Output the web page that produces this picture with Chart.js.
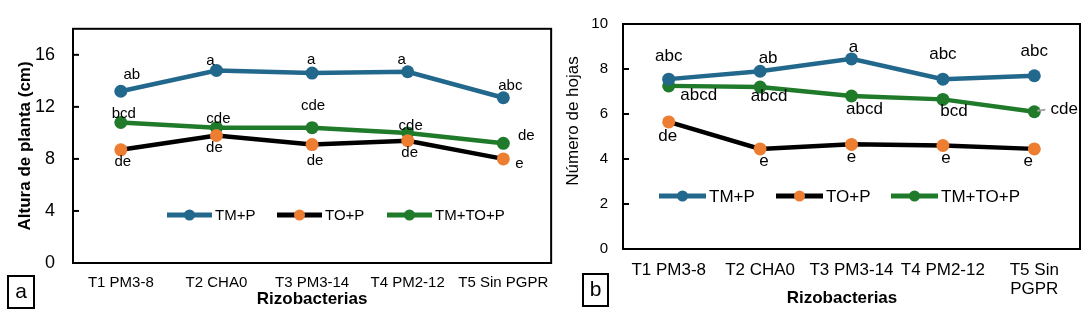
<!DOCTYPE html>
<html lang="es">
<head>
<meta charset="UTF-8">
<title>Rizobacterias</title>
<script src="https://cdn.jsdelivr.net/npm/chart.js"></script>
<style>
  html, body { margin: 0; padding: 0; background: #fff; }
  #wrap { position: relative; width: 1087px; height: 326px; }
  #chartA { position: absolute; left: 0; top: 0; }
  #chartB { position: absolute; left: 560px; top: 0; }
</style>
</head>
<body>
<div id="wrap">
  <canvas id="chartA" width="560" height="326"></canvas>
  <canvas id="chartB" width="527" height="326"></canvas>
</div>
<script>
// categorias (eje x)
const categories = ["T1 PM3-8", "T2 CHA0", "T3 PM3-14", "T4 PM2-12", "T5 Sin PGPR"];
const categoriesB = ["T1 PM3-8", "T2 CHA0", "T3 PM3-14", "T4 PM2-12", ["T5 Sin", "PGPR"]];
const seriesNames = ["TM+P", "TO+P", "TM+TO+P"];

// a) altura de planta (cm)
const alturaTMP = [13.2, 14.8, 14.6, 14.7, 12.7];
const alturaTOP = [8.7, 9.8, 9.1, 9.4, 8.0];
const alturaTMTOP = [10.8, 10.4, 10.4, 10.0, 9.2];
const alturaTicks = [0, 4, 8, 12, 16];

// b) numero de hojas
const hojasTMP = [7.55, 7.9, 8.45, 7.55, 7.7];
const hojasTOP = [5.65, 4.45, 4.65, 4.6, 4.45];
const hojasTMTOP = [7.25, 7.2, 6.8, 6.65, 6.1];
const hojasTicks = [0, 2, 4, 6, 8, 10];

// letras de significancia
const letrasA_TMP = ["ab", "a", "a", "a", "abc"];
const letrasA_TOP = ["de", "de", "de", "de", "e"];
const letrasA_TMTOP = ["bcd", "cde", "cde", "cde", "de"];
const letrasB_TMP = ["abc", "ab", "a", "abc", "abc"];
const letrasB_TOP = ["de", "e", "e", "e", "e"];
const letrasB_TMTOP = ["abcd", "abcd", "abcd", "bcd", "cde"];

// desplazamiento de las letras respecto al punto (px)
const offsetsA = [
    [[11, -16], [-6, -10], [-1, -13], [-6, -12], [7, -12]],
    [[2, 12], [-2, 12], [3, 16], [2, 12], [16, 5]],
    [[3, -9], [2, -9], [1, -22], [3, -7], [23, -7]],
];
const offsetsB = [
    [[0, -23], [8, -13], [2, -12], [0, -25], [0, -24]],
    [[-1, 14], [4, 12], [0, 13], [3, 13], [-6, 12]],
    [[30, 9], [9, 9], [13, 13], [11, 12], [30, -2]],
];

const AZUL = "#22688c";
const VERDE = "#1f7a2a";
const NARANJA = "#ed7d31";
const FONT = "'Liberation Sans', Arial, sans-serif";

function makeDatasets(a, b, c, r) {
    return [
        { label: seriesNames[0], data: a, borderColor: AZUL, pointBackgroundColor: AZUL, pointBorderColor: AZUL },
        { label: seriesNames[1], data: b, borderColor: "#000", pointBackgroundColor: NARANJA, pointBorderColor: NARANJA },
        { label: seriesNames[2], data: c, borderColor: VERDE, pointBackgroundColor: VERDE, pointBorderColor: VERDE },
    ].map((d) => Object.assign(d, { borderWidth: 4.5, pointRadius: r, pointHoverRadius: r, pointBorderWidth: 0, tension: 0, fill: false }));
}

// marco, marcas internas, letras, leyenda y etiqueta del panel
const decor = {
    id: "decor",
    afterDatasetsDraw(chart, args, o) {
        const ctx = chart.ctx;
        const area = chart.chartArea;
        ctx.save();
        ctx.strokeStyle = "#000";
        ctx.lineWidth = 2;
        ctx.strokeRect(area.left, area.top, area.right - area.left, area.bottom - area.top);
        const ys = chart.scales.y;
        ys.ticks.forEach((t) => {
            const py = ys.getPixelForValue(t.value);
            ctx.beginPath();
            ctx.moveTo(area.left, py);
            ctx.lineTo(area.left + 6, py);
            ctx.stroke();
        });

        // letras
        ctx.font = o.letterFont;
        ctx.fillStyle = "#000";
        ctx.textAlign = "center";
        ctx.textBaseline = "middle";
        chart.data.datasets.forEach((ds, i) => {
            const meta = chart.getDatasetMeta(i);
            meta.data.forEach((pt, j) => {
                const off = o.offsets[i][j];
                ctx.fillText(o.letters[i][j], pt.x + off[0], pt.y + off[1]);
            });
        });
        if (o.leader) {
            const pt = chart.getDatasetMeta(o.leader[0]).data[o.leader[1]];
            ctx.strokeStyle = "#a6a6a6";
            ctx.lineWidth = 2;
            ctx.beginPath();
            ctx.moveTo(pt.x + 3, pt.y - 1);
            ctx.lineTo(pt.x + 11, pt.y - 2);
            ctx.stroke();
        }

        // leyenda
        ctx.textAlign = "left";
        ctx.font = o.legendFont;
        chart.data.datasets.forEach((ds, i) => {
            const x = o.legendX[i], y = o.legendY, len = o.legendLen;
            ctx.strokeStyle = ds.borderColor;
            ctx.lineWidth = 5;
            ctx.beginPath();
            ctx.moveTo(x, y);
            ctx.lineTo(x + len, y);
            ctx.stroke();
            ctx.fillStyle = ds.pointBackgroundColor;
            ctx.beginPath();
            ctx.arc(x + len / 2, y, 5.5, 0, Math.PI * 2);
            ctx.fill();
            ctx.fillStyle = "#000";
            ctx.fillText(ds.label, x + len + 3, y + 1);
        });

        // titulos dibujados a mano
        if (o.xTitle) {
            ctx.font = "bold 17px " + FONT;
            ctx.textAlign = "center";
            ctx.fillText(o.xTitle[0], o.xTitle[1], o.xTitle[2]);
        }
        if (o.yTitle) {
            ctx.font = "17px " + FONT;
            ctx.textAlign = "center";
            ctx.translate(o.yTitle[1], o.yTitle[2]);
            ctx.rotate(-Math.PI / 2);
            ctx.fillText(o.yTitle[0], 0, 0);
            ctx.setTransform(1, 0, 0, 1, 0, 0);
        }

        // recuadro a / b
        const bx = o.box;
        ctx.strokeStyle = "#000";
        ctx.lineWidth = 2;
        ctx.strokeRect(bx[1], bx[2], bx[3], bx[4]);
        ctx.font = "21px " + FONT;
        ctx.textAlign = "center";
        ctx.fillText(bx[0], bx[1] + bx[3] / 2, bx[2] + bx[4] / 2);
        ctx.restore();
    },
};

Chart.defaults.font.family = FONT;
Chart.defaults.color = "#000";

// a) Altura de planta
new Chart(document.getElementById("chartA"), {
    type: "line",
    data: { labels: categories, datasets: makeDatasets(alturaTMP, alturaTOP, alturaTMTOP, 6.5) },
    options: {
        responsive: false,
        animation: false,
        layout: { padding: { top: 19, right: 4, bottom: 0, left: 0 } },
        plugins: {
            legend: { display: false },
            tooltip: { enabled: false },
            decor: {
                letters: [letrasA_TMP, letrasA_TOP, letrasA_TMTOP],
                offsets: offsetsA,
                letterFont: "15px " + FONT,
                legendFont: "15px " + FONT,
                legendX: [167, 277, 387],
                legendY: 215,
                legendLen: 45,
                box: ["a", 8, 276, 26, 32],
            },
        },
        scales: {
            x: {
                type: "category",
                offset: true,
                grid: { display: false, drawTicks: false },
                border: { display: false },
                ticks: { font: { size: 15 }, padding: 11, autoSkip: false, maxRotation: 0 },
                title: { display: true, text: "Rizobacterias", font: { size: 17, weight: "bold" }, padding: { top: 0, bottom: 16 } },
                afterFit: (s) => { s.height = 63; },
            },
            y: {
                min: 0,
                max: 18,
                grid: { display: false, drawTicks: false },
                border: { display: false },
                ticks: { font: { size: 18 }, padding: 18 },
                afterBuildTicks: (s) => { s.ticks = alturaTicks.map((v) => ({ value: v })); },
                title: { display: true, text: "Altura de planta (cm)", font: { size: 17, weight: "bold" }, padding: { top: 15, bottom: 0 } },
                afterFit: (s) => { s.width = 73; },
            },
        },
    },
    plugins: [decor],
});

// b) Numero de hojas
new Chart(document.getElementById("chartB"), {
    type: "line",
    data: { labels: categoriesB, datasets: makeDatasets(hojasTMP, hojasTOP, hojasTMTOP, 6.5) },
    options: {
        responsive: false,
        animation: false,
        layout: { padding: { top: 20, right: 7, bottom: 0, left: 0 } },
        plugins: {
            legend: { display: false },
            tooltip: { enabled: false },
            decor: {
                letters: [letrasB_TMP, letrasB_TOP, letrasB_TMTOP],
                offsets: offsetsB,
                leader: [2, 4],
                letterFont: "17px " + FONT,
                legendFont: "17px " + FONT,
                legendX: [99, 216, 331],
                legendY: 196,
                legendLen: 47,
                xTitle: ["Rizobacterias", 282, 298],
                yTitle: ["Número de hojas", 13, 121],
                box: ["b", 23, 274, 25, 32],
            },
        },
        scales: {
            x: {
                type: "category",
                offset: true,
                grid: { display: false, drawTicks: false },
                border: { display: false },
                ticks: { font: { size: 17, lineHeight: 1.1 }, padding: 12, autoSkip: false, maxRotation: 0 },
                afterFit: (s) => { s.height = 77; },
            },
            y: {
                min: 0,
                max: 10,
                grid: { display: false, drawTicks: false },
                border: { display: false },
                ticks: { font: { size: 15 }, padding: 15 },
                afterBuildTicks: (s) => { s.ticks = hojasTicks.map((v) => ({ value: v })); },
                afterFit: (s) => { s.width = 63; },
            },
        },
    },
    plugins: [decor],
});
</script>
</body>
</html>
